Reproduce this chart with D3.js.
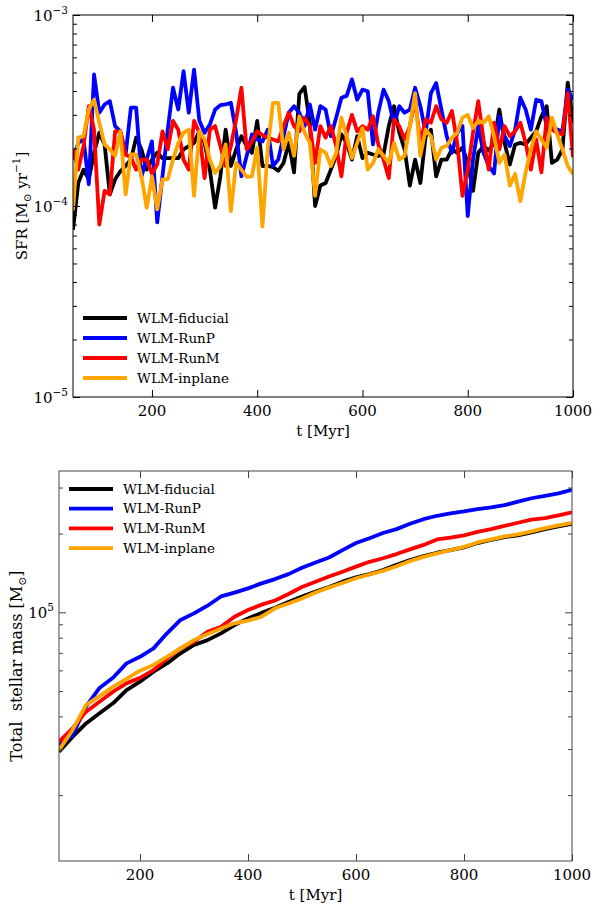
<!DOCTYPE html>
<html>
<head>
<meta charset="utf-8">
<script src="https://cdn.jsdelivr.net/npm/d3@7"></script>
<style>
    body { margin: 0; background: #fff; }
    svg { display: block; font-family: 'DejaVu Serif', serif; }
</style>
</head>
<body>
<svg id="chart" width="595" height="905"></svg>
<script>
const SERIES = ['WLM-fiducial', 'WLM-RunP', 'WLM-RunM', 'WLM-inplane'];
const COLORS = ['#000000', '#0000ff', '#ff0000', '#ffa500'];

// SFR, sampled every 10 Myr from 50 to 1000, in units of 1e-4 Msun/yr
const sfrTime = d3.range(50, 1001, 10);
const sfrFiducial = [
    0.75, 1.32, 1.55, 1.38, 1.9, 2.42, 2.1, 1.15, 1.38, 1.52, 1.62, 1.75, 2.28, 1.98, 1.55, 1.75, 1.9, 1.78, 1.78, 1.78, 1.78, 1.98, 2.06, 2.14,
    2.46, 2.14, 1.55, 0.98, 1.43, 2.51, 1.62, 1.98, 2.32, 2.06, 1.9, 2.79, 1.62, 1.62, 1.6, 1.53, 1.68, 2.14, 1.5, 3.86, 4.2, 2.73, 1.0, 1.28,
    1.32, 1.55, 1.83, 2.37, 2.14, 1.75, 2.32, 1.78, 1.9, 1.86, 1.83, 1.86, 2.62, 3.33, 2.42, 1.98, 1.28, 1.75, 1.32, 2.32, 2.51, 1.43, 1.75,
    1.75, 1.98, 1.9, 2.02, 1.68, 1.2, 1.9, 2.06, 1.95, 2.14, 3.2, 2.14, 1.65, 2.1, 2.14, 2.1, 2.28, 2.46, 2.95, 3.33, 1.68, 1.75, 1.98, 4.43, 2.73,
];
const sfrRunP = [
    1.75, 2.14, 2.23, 1.3, 4.88, 3.08, 3.4, 3.54, 2.62, 2.46, 1.86, 3.27, 3.27, 1.43, 1.75, 2.18, 0.82, 1.43, 2.51, 4.16, 3.2, 5.08, 3.08, 5.18, 2.8,
    2.42, 2.67, 3.2, 3.37, 3.4, 3.47, 2.42, 1.43, 1.83, 2.37, 2.23, 2.18, 2.51, 1.62, 1.75, 2.32, 3.08, 3.33, 3.08, 2.62, 3.4, 2.51, 3.33,
    3.2, 2.32, 2.9, 3.69, 3.77, 4.6, 3.6, 4.07, 3.99, 2.1, 3.08, 4.07, 3.54, 2.67, 3.33, 3.08, 3.2, 4.16, 3.33, 2.42, 3.9, 4.4, 3.2,
    2.32, 1.9, 2.42, 2.62, 0.885, 1.75, 2.62, 1.9, 1.62, 1.48, 2.95, 2.32, 2.06, 2.51, 3.69, 3.2, 2.51, 3.6, 3.54, 2.62, 2.62, 2.51, 2.46, 4.07, 3.6,
];
const sfrRunM = [
    1.98, 1.55, 2.06, 3.33, 2.51, 0.8, 1.2, 1.15, 2.46, 2.46, 1.86, 1.8, 1.55, 1.75, 1.75, 1.48, 1.65, 2.46, 1.98, 2.79, 2.51, 1.75, 1.55, 2.79,
    2.42, 1.4, 2.51, 2.62, 2.06, 1.62, 2.06, 2.84, 4.16, 1.98, 2.18, 2.46, 2.35, 2.28, 2.23, 2.18, 2.62, 3.08, 2.62, 2.46, 2.9, 2.62, 1.68, 2.62,
    2.28, 2.62, 2.06, 1.43, 2.42, 3.0, 2.46, 2.62, 2.51, 2.95, 2.1, 1.75, 1.4, 2.84, 2.62, 2.23, 2.62, 3.6, 2.14, 2.84, 2.73, 3.33, 2.84,
    2.73, 3.14, 2.14, 1.13, 1.55, 2.42, 3.54, 2.23, 1.55, 2.73, 1.98, 2.62, 2.32, 2.46, 2.73, 2.14, 1.55, 2.23, 1.5, 2.9, 2.51, 2.42, 2.37, 3.9, 1.8,
];
const sfrInplane = [
    0.95, 2.28, 2.32, 3.2, 3.6, 2.73, 2.1, 1.98, 1.83, 2.46, 1.15, 1.86, 1.86, 1.43, 0.98, 1.43, 0.96, 1.38, 1.38, 1.75, 2.14, 2.42, 2.51, 1.13,
    2.46, 2.23, 1.75, 1.49, 1.62, 2.1, 0.94, 1.68, 1.55, 1.42, 1.43, 2.02, 0.78, 2.0, 3.47, 3.47, 1.98, 2.42, 1.83, 2.95, 2.42, 2.14, 1.13, 1.98,
    1.9, 1.62, 1.9, 2.9, 2.32, 1.78, 2.14, 2.56, 1.55, 1.68, 1.98, 1.83, 1.68, 2.14, 1.75, 1.83, 2.62, 3.9, 1.83, 2.51, 2.32, 1.75, 2.02,
    2.06, 2.28, 2.42, 2.9, 3.0, 2.56, 2.79, 2.73, 2.95, 2.32, 1.68, 1.86, 1.28, 1.47, 1.06, 1.5, 1.98, 2.46, 2.23, 2.02, 2.9, 2.37, 1.98, 1.62, 1.47,
];

// total stellar mass, every 25 Myr, in units of 1e4 Msun
const massTime = d3.range(50, 1001, 25);
const massFiducial = [
    2.93, 3.34, 3.76, 4.11, 4.49, 5.04, 5.43, 5.93, 6.38, 6.97, 7.5, 7.83, 8.31, 8.94, 9.48, 9.95, 10.4, 10.95, 11.5,
    12.0, 12.5, 13.1, 13.6, 14.0, 14.5, 15.2, 15.85, 16.4, 16.9, 17.3, 17.7, 18.4, 18.9, 19.4, 19.7, 20.2, 20.8, 21.3, 21.8,
];
const massRunP = [
    3.11, 3.39, 4.36, 5.14, 5.62, 6.38, 6.76, 7.28, 8.31, 9.35, 9.91, 10.6, 11.5, 11.9, 12.35, 12.9, 13.4, 14.0, 14.8,
    15.5, 16.2, 17.3, 18.4, 19.2, 20.1, 20.8, 21.8, 22.7, 23.4, 23.9, 24.3, 24.8, 25.2, 25.7, 26.5, 27.3, 27.9, 28.5, 29.4,
];
const massRunM = [
    3.2, 3.6, 4.17, 4.55, 4.97, 5.35, 5.62, 6.01, 6.67, 7.28, 7.72, 8.43, 8.81, 9.62, 10.2, 10.7, 11.1, 11.75, 12.5,
    13.1, 13.7, 14.3, 14.95, 15.6, 16.1, 16.7, 17.4, 18.1, 19.0, 19.3, 19.7, 20.3, 20.8, 21.4, 22.0, 22.6, 22.9, 23.5, 24.1,
];
const massInplane = [
    2.97, 3.55, 4.42, 4.78, 5.19, 5.57, 5.98, 6.29, 6.76, 7.28, 7.83, 8.24, 8.68, 9.08, 9.29, 9.62, 10.36, 10.8, 11.3,
    11.9, 12.45, 12.95, 13.5, 13.95, 14.4, 15.0, 15.7, 16.3, 16.8, 17.3, 17.8, 18.5, 19.0, 19.5, 19.85, 20.4, 21.0, 21.5, 22.0,
];

const xTicks = [200, 400, 600, 800, 1000];
const sfrMajor = [1e-5, 1e-4, 1e-3];
const sfrMinor = [2, 3, 4, 5, 6, 7, 8, 9].flatMap(k => [k * 1e-5, k * 1e-4]);
const massMajor = [1e5];
const massMinor = [2e4, 3e4, 4e4, 5e4, 6e4, 7e4, 8e4, 9e4, 2e5, 3e5];

const svg = d3.select('#chart');

function drawPanel(opts) {
    const { box, yDomain, yMajor, yMinor, time, series, unit, legend, frame, id } = opts;
    const x = d3.scaleLinear().domain([50, 1000]).range([box.left, box.right]);
    const y = d3.scaleLog().domain(yDomain).range([box.bottom, box.top]);
    const g = svg.append('g');

    g.append('clipPath')
        .attr('id', id)
        .append('rect')
        .attr('x', box.left)
        .attr('y', box.top)
        .attr('width', box.right - box.left)
        .attr('height', box.bottom - box.top);

    const line = d3
        .line()
        .x((d, i) => x(time[i]))
        .y(d => y(d * unit));

    g.append('g')
        .attr('clip-path', `url(#${id})`)
        .selectAll('path')
        .data(series)
        .join('path')
        .attr('d', d => line(d))
        .attr('fill', 'none')
        .attr('stroke', (d, i) => COLORS[i])
        .attr('stroke-width', 3.8)
        .attr('stroke-linejoin', 'round');

    // inward ticks on all four sides
    const tickAxes = [
        [d3.axisBottom(x).tickValues(xTicks), `translate(0,${box.bottom})`, -7],
        [d3.axisTop(x).tickValues(xTicks), `translate(0,${box.top})`, -7],
        [d3.axisLeft(y).tickValues(yMajor), `translate(${box.left},0)`, -7],
        [d3.axisRight(y).tickValues(yMajor), `translate(${box.right},0)`, -7],
        [d3.axisLeft(y).tickValues(yMinor), `translate(${box.left},0)`, -4],
        [d3.axisRight(y).tickValues(yMinor), `translate(${box.right},0)`, -4],
    ];
    tickAxes.forEach(([axis, transform, size]) => {
        const a = g
            .append('g')
            .attr('transform', transform)
            .call(axis.tickSize(size).tickSizeOuter(0).tickFormat(''));
        a.select('.domain').remove();
        a.selectAll('line').attr('stroke', frame);
    });

    g.append('rect')
        .attr('x', box.left)
        .attr('y', box.top)
        .attr('width', box.right - box.left)
        .attr('height', box.bottom - box.top)
        .attr('fill', 'none')
        .attr('stroke', frame)
        .attr('stroke-width', 1);

    g.selectAll('text.xtick')
        .data(xTicks)
        .join('text')
        .attr('class', 'xtick')
        .attr('x', d => x(d))
        .attr('y', box.bottom + 19)
        .attr('text-anchor', 'middle')
        .attr('font-size', 15)
        .text(d => d);

    yMajor.forEach(v => {
        const exp = Math.round(Math.log10(v));
        const t = g
            .append('text')
            .attr('x', box.left - 5)
            .attr('y', y(v) + 6)
            .attr('text-anchor', 'end')
            .attr('font-size', 15);
        t.append('tspan').text('10');
        t.append('tspan')
            .attr('dy', -7)
            .attr('font-size', 10.5)
            .text(String(exp).replace('-', '\u2212'));
    });

    g.append('text')
        .attr('x', (box.left + box.right) / 2)
        .attr('y', box.bottom + 39)
        .attr('text-anchor', 'middle')
        .attr('font-size', 15)
        .text('t [Myr]');

    const yl = g
        .append('text')
        .attr('transform', `translate(${opts.yLabelX},${(box.top + box.bottom) / 2}) rotate(-90)`)
        .attr('text-anchor', 'middle')
        .attr('font-size', opts.yLabelSize);
    opts.yLabel(yl);

    const lg = g.append('g');
    SERIES.forEach((name, i) => {
        const ly = legend.y + i * legend.dy;
        lg.append('line')
            .attr('x1', legend.x)
            .attr('x2', legend.x + 44)
            .attr('y1', ly)
            .attr('y2', ly)
            .attr('stroke', COLORS[i])
            .attr('stroke-width', 3.8);
        lg.append('text')
            .attr('x', legend.x + 54)
            .attr('y', ly + 4.5)
            .attr('font-size', 13.5)
            .text(name);
    });
}

drawPanel({
    id: 'clip-sfr',
    box: { left: 73, right: 573, top: 15, bottom: 397 },
    yDomain: [1e-5, 1e-3],
    yMajor: sfrMajor,
    yMinor: sfrMinor,
    time: sfrTime,
    series: [sfrFiducial, sfrRunP, sfrRunM, sfrInplane],
    unit: 1e-4,
    frame: '#000',
    legend: { x: 83, y: 318, dy: 20 },
    yLabelX: 27,
    yLabelSize: 15,
    yLabel: t => {
        t.append('tspan').text('SFR [M');
        t.append('tspan').attr('dy', 4).attr('font-size', 10.5).text('\u2299');
        t.append('tspan').attr('dy', -4).text(' yr');
        t.append('tspan').attr('dy', -7).attr('font-size', 10.5).text('\u22121');
        t.append('tspan').attr('dy', 7).text(']');
    },
});

drawPanel({
    id: 'clip-mass',
    box: { left: 59, right: 572, top: 471, bottom: 861 },
    yDomain: [1.12e4, 3.47e5],
    yMajor: massMajor,
    yMinor: massMinor,
    time: massTime,
    series: [massFiducial, massRunP, massRunM, massInplane],
    unit: 1e4,
    frame: '#444',
    legend: { x: 69, y: 489, dy: 19.7 },
    yLabelX: 22,
    yLabelSize: 16,
    yLabel: t => {
        t.append('tspan').text('Total\u00a0 stellar mass [M');
        t.append('tspan').attr('dy', 4).attr('font-size', 11).text('\u2299');
        t.append('tspan').attr('dy', -4).text(']');
    },
});
</script>
</body>
</html>
